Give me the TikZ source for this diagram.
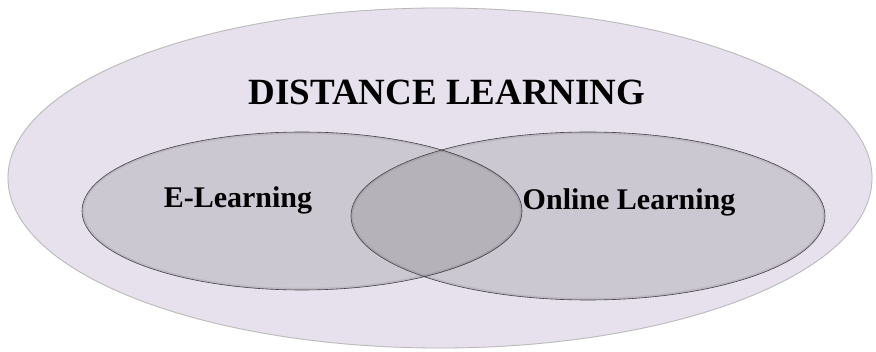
\documentclass[tikz,border=0pt]{standalone}
\usepackage{fontspec}
\setmainfont{Liberation Serif}
\definecolor{lavender}{RGB}{230,225,236}
\definecolor{rimgray}{RGB}{120,115,125}
\tikzset{
  outerset/.style={fill=lavender,draw=gray!55,line width=0.8pt},
  innerset/.style={fill=black,fill opacity=0.11,draw=rimgray!60!black,line width=0.6pt,draw opacity=1},
  innerglow/.style={draw=black,line width=4pt,draw opacity=0.08},
  setlabel/.style={font=\bfseries\fontsize{30}{32}\selectfont,anchor=base,inner sep=0pt}
}
\begin{document}
\begin{tikzpicture}[x=1pt,y=1pt]
  \useasboundingbox (0,0) rectangle (876,351);
  %% outer set
  \draw[gray!35,line width=5pt,opacity=0.5] (440,173) ellipse [x radius=430pt, y radius=168pt];
  \draw[outerset] (440,173) ellipse [x radius=432pt, y radius=170pt];
  \node[font=\bfseries\fontsize{37}{40}\selectfont,anchor=base,inner sep=0pt] (title) at (447,246) {DISTANCE LEARNING};
  %% e-learning
  \draw[innerset] (302,140) ellipse [x radius=220pt, y radius=79pt];
  \begin{scope}
    \clip (302,140) ellipse [x radius=220pt, y radius=79pt];
    \draw[innerglow] (302,140) ellipse [x radius=220pt, y radius=79pt];
  \end{scope}
  %% online learning
  \draw[innerset] (588,135) ellipse [x radius=237pt, y radius=84pt];
  \begin{scope}
    \clip (588,135) ellipse [x radius=237pt, y radius=84pt];
    \draw[innerglow] (588,135) ellipse [x radius=237pt, y radius=84pt];
  \end{scope}
  \node[setlabel] (elearn) at (238,143) {E-Learning};
  \node[setlabel] (online) at (629,141) {Online Learning};
\end{tikzpicture}
\end{document}
